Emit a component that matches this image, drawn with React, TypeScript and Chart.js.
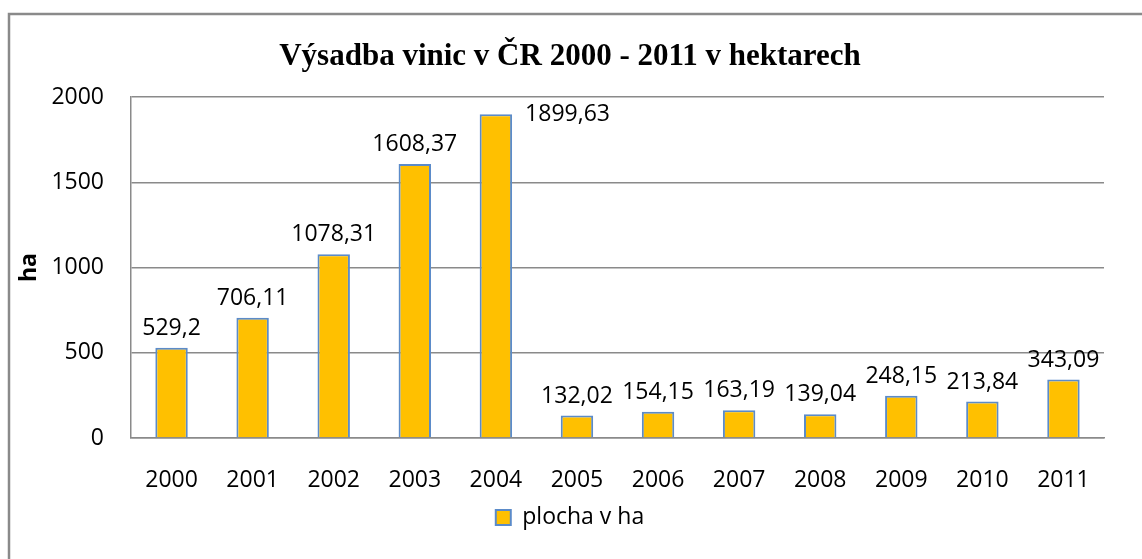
import React, { useEffect, useRef } from "react";
import { Chart, registerables } from "chart.js";

Chart.register(...registerables);

const categories = ["2000", "2001", "2002", "2003", "2004", "2005", "2006", "2007", "2008", "2009", "2010", "2011"];
const plochaValues = [529.2, 706.11, 1078.31, 1608.37, 1899.63, 132.02, 154.15, 163.19, 139.04, 248.15, 213.84, 343.09];
const seriesLabel = "plocha v ha";
const titleText = "Výsadba vinic v ČR 2000 - 2011 v hektarech";
const yAxisTitle = "ha";

const FONT = "'Open Sans', 'Noto Sans', sans-serif";

const formatCz = (v: number) => String(v).replace(".", ",");

const frameAndLabels = {
  id: "frameAndLabels",
  beforeDraw(chart: any) {
    const { ctx, width, height } = chart;
    ctx.save();
    ctx.fillStyle = "#ffffff";
    ctx.fillRect(0, 0, width, height);
    ctx.strokeStyle = "#8a8a8a";
    ctx.lineWidth = 2.5;
    ctx.beginPath();
    ctx.moveTo(9, height + 2);
    ctx.lineTo(9, 14);
    ctx.lineTo(width + 2, 14);
    ctx.stroke();
    ctx.restore();
  },
  afterDatasetsDraw(chart: any) {
    const { ctx, chartArea } = chart;
    const meta = chart.getDatasetMeta(0);
    const data = chart.data.datasets[0].data as number[];
    ctx.save();
    ctx.font = `23px ${FONT}`;
    ctx.fillStyle = "#000000";
    meta.data.forEach((bar: any, i: number) => {
      const txt = formatCz(data[i]);
      const gap = 13;
      const labelH = 17;
      if (bar.y - gap - labelH < chartArea.top) {
        ctx.textAlign = "left";
        ctx.textBaseline = "middle";
        ctx.fillText(txt, bar.x + bar.width / 2 + 13, bar.y);
      } else {
        ctx.textAlign = "center";
        ctx.textBaseline = "alphabetic";
        ctx.fillText(txt, bar.x, bar.y - gap);
      }
    });
    ctx.restore();
  },
};

export default function App() {
  const canvasRef = useRef<HTMLCanvasElement | null>(null);

  useEffect(() => {
    if (!canvasRef.current) return;
    const chart = new Chart(canvasRef.current, {
      type: "bar",
      data: {
        labels: categories,
        datasets: [
          {
            label: seriesLabel,
            data: plochaValues,
            backgroundColor: "#FFC000",
            borderColor: "#5B8BC9",
            borderWidth: 2,
            barPercentage: 0.4,
            categoryPercentage: 1,
          },
        ],
      },
      options: {
        animation: false,
        responsive: false,
        maintainAspectRatio: false,
        layout: { padding: { left: 36, right: 38, top: 0, bottom: 20 } },
        plugins: {
          title: {
            display: true,
            text: titleText,
            color: "#000000",
            font: { family: "'Liberation Serif', 'Times New Roman', serif", size: 31, weight: "bold" },
            padding: { top: 38, bottom: 22 },
          },
          legend: {
            display: true,
            position: "bottom",
            labels: {
              color: "#000000",
              font: { family: FONT, size: 23 },
              boxWidth: 15,
              boxHeight: 15,
              padding: 10,
            },
          },
          tooltip: { enabled: false },
        },
        scales: {
          x: {
            grid: { display: false, drawTicks: false },
            border: { display: true, color: "#8a8a8a", width: 1.5 },
            ticks: { color: "#000000", font: { family: FONT, size: 23 }, padding: 29, maxRotation: 0 },
            afterFit(scale: any) {
              scale.height = 58;
            },
          },
          y: {
            min: 0,
            max: 2000,
            ticks: {
              stepSize: 500,
              color: "#000000",
              font: { family: FONT, size: 23 },
              padding: 27,
              callback: (v: any) => String(v),
            },
            grid: { color: "#8a8a8a", lineWidth: 1.5, drawTicks: false },
            border: { display: true, color: "#8a8a8a", width: 1.5 },
            title: {
              display: true,
              text: yAxisTitle,
              color: "#000000",
              font: { family: FONT, size: 23, weight: "bold" },
              padding: { top: -20, bottom: 0 },
            },
            afterFit(scale: any) {
              scale.width = 95;
            },
          },
        },
      },
      plugins: [frameAndLabels],
    });
    return () => chart.destroy();
  }, []);

  return (
    <div style={{ position: "fixed", left: 0, top: 0, width: 1142, height: 559, background: "#fff" }}>
      <canvas ref={canvasRef} width={1142} height={559} style={{ display: "block", width: 1142, height: 559 }} />
    </div>
  );
}
